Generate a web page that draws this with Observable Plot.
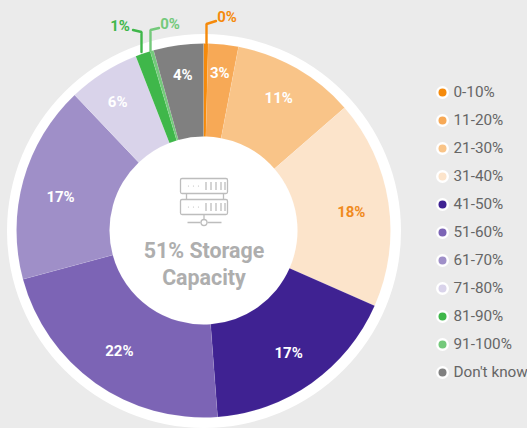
<!DOCTYPE html>
<html><head><meta charset="utf-8">
<script src="https://cdn.jsdelivr.net/npm/d3@7"></script>
<script src="https://cdn.jsdelivr.net/npm/@observablehq/plot@0.6"></script>
<style>
html,body{margin:0;padding:0;background:#ebebeb;width:527px;height:428px;overflow:hidden}
#pie,#legend{position:absolute;top:0}
#pie{left:0}#legend{left:430px}
svg{display:block;background:transparent!important;overflow:hidden}
</style></head><body>
<div id="pie"></div><div id="legend"></div>
<script>
const categories = ["0-10%","11-20%","21-30%","31-40%","41-50%","51-60%","61-70%","71-80%","81-90%","91-100%","Don't know"];
const shares = [0.4,2.6,10.6,18,17.2,22,17.1,6.2,1.3,0.3,4.3];
const labels = ["0%","3%","11%","18%","17%","22%","17%","6%","1%","0%","4%"];
const colors = ["#f58a0b","#f7a956","#f9c488","#fce4cb","#3f2292","#7c64b5","#9f8fc8","#d9d3ea","#3fb74a","#74c97b","#808080"];
const centerLines = ["51% Storage","Capacity"];
const labelNudgeX = [0,-1,0,-1,-2,2,1,-6,0,0,0];
const labelNudgeY = [0,-1,-3,4,0,-2,7,-2,0,0,1];
const font = "Roboto, sans-serif";
const outerR = 187, innerR = 94, ringR = 197;

const pieGen = d3.pie().sort(null).value(d => d.share);
const slices = pieGen(categories.map((c,i)=>({category:c,share:shares[i],label:labels[i],color:colors[i],i})));
const midAngle = s => (s.startAngle+s.endAngle)/2;
const labelR = s => s.data.share < 5 ? 158 : 150;
const inside = slices.filter(s => s.data.share >= 2);
const leaders = [
  {i:0, pts:[[2.5,188],[2.5,207],[12,210]], tx:23, ty:214, color:colors[0]},
  {i:8, pts:[[-62.5,179],[-62.5,199],[-71,201]], tx:-84, ty:205, color:colors[8]},
  {i:9, pts:[[-53.5,180],[-53.5,201],[-45,203]], tx:-34, ty:207, color:colors[9]}
];

function sliceMark(index, {x,y}, values, dims, ctx){
  const g = d3.create("svg:g").attr("transform",`translate(${x(0)},${y(0)})`);
  const k = x(1)-x(0);
  const arc = d3.arc().innerRadius(innerR*k).outerRadius(outerR*k);
  g.selectAll("path").data(slices).join("path")
    .attr("d",arc).attr("fill",d=>d.data.color)
    .attr("stroke","#fff").attr("stroke-opacity",0.12).attr("stroke-width",0.6);
  return g.node();
}
function iconMark(index, {x,y}){
  const g = d3.create("svg:g").attr("transform",`translate(${x(0)},${y(0)})`)
    .attr("fill","none").attr("stroke","#bdbdbd").attr("stroke-width",1.3);
  for (const top of [-52,-31]) {
    g.append("rect").attr("x",-23).attr("y",top).attr("width",47).attr("height",15).attr("rx",1.5);
    for (const dx of [-15,-10,-5]) g.append("circle").attr("cx",dx).attr("cy",top+7.5).attr("r",0.6).attr("fill","#bdbdbd").attr("stroke","none");
    for (const dx of [2.5,7.5,12.5,17.5,21.5]) g.append("line").attr("x1",dx).attr("x2",dx).attr("y1",top+3.5).attr("y2",top+11.5);
  }
  g.append("path").attr("d","M-17-37V-31M20-37V-31M0.5-16V-11M-16-8H-3M4-8H18");
  g.append("circle").attr("cx",0.5).attr("cy",-8).attr("r",3);
  return g.node();
}

const pie = Plot.plot({
  width:527, height:428, margin:0,
  x:{domain:[-203.5,323.5],axis:null},
  y:{domain:[-197.5,230.5],axis:null},
  marks:[
    Plot.dot([{x:0,y:0}],{x:"x",y:"y",r:ringR,fill:"#fff",stroke:"none"}),
    sliceMark,
    iconMark,
    Plot.text(inside,{
      x:s=>labelR(s)*Math.sin(midAngle(s))+labelNudgeX[s.data.i],
      y:s=>labelR(s)*Math.cos(midAngle(s))-labelNudgeY[s.data.i],
      text:s=>s.data.label, fontSize:15, fontWeight:700, fontFamily:font,
      fill:s=>s.data.label==="18%"?"#f08a1d":"#fff"
    }),
    ...leaders.map(l=>Plot.line(l.pts,{x:d=>d[0],y:d=>d[1],stroke:l.color,strokeWidth:2.4,strokeLinejoin:"miter",curve:"linear"})),
    Plot.text(leaders,{x:"tx",y:"ty",text:l=>labels[l.i],fill:l=>l.color,fontSize:15,fontWeight:700,fontFamily:font}),
    Plot.text(centerLines,{x:()=>0,y:(d,i)=>[-20,-47][i],text:d=>d,fill:"#aeaeae",fontSize:21.4,fontWeight:700,fontFamily:font})
  ]
});
document.getElementById("pie").append(pie);

const legend = Plot.plot({
  width:97, height:428, margin:0,
  x:{domain:[0,97],range:[0,97],axis:null},
  y:{type:"point",domain:categories,range:[91.5,371.5],padding:0,axis:null},
  marks:[
    Plot.dot(categories,{x:()=>12,y:d=>d,r:6.5,fill:"#fff",stroke:"none"}),
    Plot.dot(categories,{x:()=>12,y:d=>d,r:4,fill:(d,i)=>colors[i],stroke:"none"}),
    Plot.text(categories,{x:()=>23,y:d=>d,text:d=>d,textAnchor:"start",fill:"#666",fontSize:15.3,fontFamily:font})
  ]
});
document.getElementById("legend").append(legend);
</script></body></html>
